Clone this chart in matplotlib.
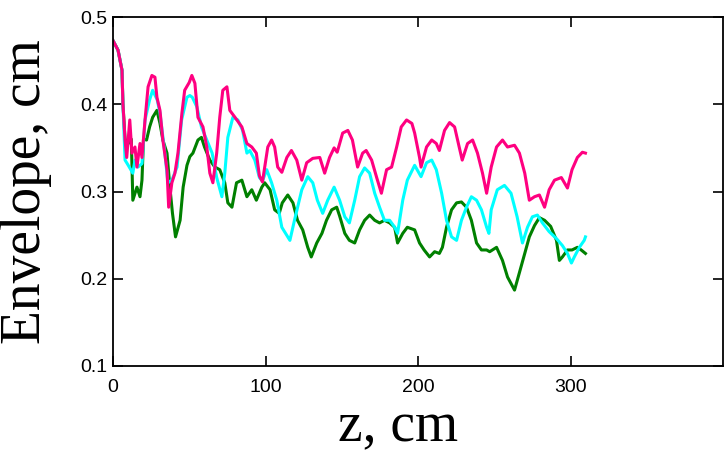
import matplotlib
matplotlib.use("Agg")
import matplotlib.pyplot as plt

# envelope vs z
z_pink = [0, 3.3, 5.9, 6.5, 7.9, 9, 11, 12.4, 14.4, 15.7, 17.7, 19, 21, 23, 25.5, 27.5, 28.8, 30.8,
          32.7, 35.4, 36.5, 38.6, 40.6, 42.6, 45.2, 47, 50, 51.7, 53.7, 55.7, 59, 61.5, 63.5, 65.5,
          68, 70, 72, 74.7, 76.6, 80, 84.5, 87.8, 91, 94, 96, 98, 101.5, 104, 106, 108, 110.7, 114,
          117, 120.5, 123.8, 127, 131, 135.6, 138.8, 142, 145, 147, 150.6, 154, 157, 160.4, 163.7,
          166, 169.6, 172.9, 176, 179.4, 182.7, 186, 189, 192.5, 196, 197.8, 201, 202, 205.6, 209,
          212, 214, 217.4, 220.7, 224, 227, 229, 232.5, 235.8, 239, 242.3, 245, 248, 251.5, 255.4,
          258.7, 263.3, 266.5, 270, 273, 276.4, 279.6, 283, 286, 289.5, 294, 298, 301, 304.5, 307.8,
          309.8]
env_pink = [0.473, 0.462, 0.439, 0.401, 0.359, 0.339, 0.382, 0.344, 0.351, 0.328, 0.355, 0.339,
            0.382, 0.420, 0.433, 0.431, 0.408, 0.393, 0.359, 0.325, 0.282, 0.310, 0.321, 0.344,
            0.390, 0.416, 0.425, 0.433, 0.424, 0.385, 0.374, 0.351, 0.321, 0.310, 0.344, 0.385,
            0.416, 0.420, 0.393, 0.385, 0.374, 0.355, 0.351, 0.344, 0.318, 0.311, 0.351, 0.359,
            0.351, 0.328, 0.322, 0.339, 0.347, 0.336, 0.313, 0.333, 0.338, 0.339, 0.321, 0.339,
            0.350, 0.345, 0.367, 0.370, 0.359, 0.328, 0.344, 0.347, 0.336, 0.316, 0.298, 0.325,
            0.328, 0.351, 0.374, 0.382, 0.378, 0.367, 0.339, 0.328, 0.351, 0.359, 0.355, 0.347,
            0.370, 0.379, 0.374, 0.351, 0.336, 0.355, 0.359, 0.344, 0.321, 0.298, 0.328, 0.351,
            0.359, 0.351, 0.353, 0.344, 0.321, 0.290, 0.294, 0.296, 0.282, 0.302, 0.313, 0.316,
            0.304, 0.325, 0.339, 0.345, 0.344]

z_cyan = [0, 3.3, 5.9, 6.5, 7.9, 10, 13, 14.4, 16.4, 19, 21, 24, 26, 29, 30.8, 34, 36, 38.6, 42,
          45, 48.5, 50.4, 52, 55, 58, 61.5, 65, 68, 71.4, 73.3, 75.3, 78.6, 81.9, 85, 87.8, 89.7,
          93, 96, 98, 100.8, 104, 107.4, 110.7, 116, 119, 123.8, 127.7, 131, 134, 137.5, 140.8,
          145, 148.6, 152, 155, 158.5, 161.7, 165, 168.3, 171.6, 174.8, 178, 181.4, 184.7, 186.6,
          190, 193, 197.8, 202, 205.6, 209, 212, 215.5, 218.7, 222, 225.3, 228.5, 231.8, 235,
          238.4, 241.6, 245, 246.5, 248, 252, 256.7, 261, 265, 268.5, 271.8, 275, 278.3, 281.6,
          286, 290.8, 294.7, 298, 300.6, 302.5, 305.8, 309, 309.8]
env_cyan = [0.473, 0.462, 0.439, 0.401, 0.336, 0.330, 0.321, 0.336, 0.328, 0.332, 0.382, 0.405,
            0.416, 0.405, 0.390, 0.344, 0.310, 0.313, 0.328, 0.382, 0.408, 0.410, 0.408, 0.397,
            0.374, 0.359, 0.344, 0.316, 0.294, 0.321, 0.362, 0.385, 0.382, 0.370, 0.344, 0.347,
            0.336, 0.316, 0.312, 0.325, 0.310, 0.290, 0.259, 0.244, 0.267, 0.302, 0.317, 0.310,
            0.290, 0.275, 0.290, 0.305, 0.290, 0.271, 0.264, 0.290, 0.317, 0.327, 0.321, 0.298,
            0.282, 0.267, 0.267, 0.259, 0.252, 0.290, 0.313, 0.330, 0.317, 0.333, 0.336, 0.325,
            0.298, 0.267, 0.248, 0.244, 0.267, 0.282, 0.294, 0.290, 0.279, 0.259, 0.252, 0.279,
            0.302, 0.307, 0.298, 0.271, 0.241, 0.259, 0.271, 0.273, 0.264, 0.254, 0.246, 0.238,
            0.229, 0.218, 0.225, 0.236, 0.244, 0.248]

z_green = [0, 3.3, 5.9, 6.5, 7.9, 10, 12, 13, 15.7, 17.7, 19, 20, 22, 24, 26, 28.8, 30.8, 32.7,
           35.4, 37.3, 39, 41, 44, 46, 48.5, 50.4, 52.4, 55.7, 58, 60, 63.5, 66.8, 70, 73.3, 75.3,
           78, 81, 84.5, 87.8, 91, 94, 97.6, 99.5, 103, 106, 109, 111, 114.6, 118, 121, 124.4,
           127.7, 130, 133.6, 137, 140, 143.4, 146.7, 148.6, 152, 155, 158.5, 161.7, 165, 168.3,
           171.6, 174.8, 178, 181.4, 184.7, 186.6, 190, 193, 197.8, 201, 204, 207.6, 210.9, 214,
           216, 218.7, 222, 225.3, 228.5, 231.8, 235, 238.4, 241.6, 245, 247, 251.5, 255.4, 258.7,
           263.3, 266.5, 270, 273, 276.4, 279.6, 283, 287, 290.8, 292.7, 294.7, 298, 301, 304.5,
           307, 309.8]
env_green = [0.473, 0.462, 0.439, 0.401, 0.360, 0.355, 0.360, 0.290, 0.305, 0.294, 0.313, 0.360,
             0.359, 0.374, 0.385, 0.393, 0.378, 0.359, 0.344, 0.305, 0.275, 0.248, 0.267, 0.305,
             0.330, 0.340, 0.344, 0.359, 0.362, 0.351, 0.336, 0.328, 0.325, 0.310, 0.287, 0.282,
             0.310, 0.313, 0.294, 0.302, 0.290, 0.305, 0.310, 0.302, 0.279, 0.275, 0.287, 0.296,
             0.287, 0.267, 0.256, 0.236, 0.225, 0.241, 0.252, 0.267, 0.279, 0.282, 0.272, 0.252,
             0.244, 0.241, 0.256, 0.267, 0.273, 0.267, 0.264, 0.267, 0.264, 0.259, 0.241, 0.252,
             0.259, 0.256, 0.241, 0.233, 0.225, 0.231, 0.229, 0.236, 0.259, 0.279, 0.287, 0.288,
             0.282, 0.267, 0.241, 0.233, 0.233, 0.231, 0.236, 0.221, 0.202, 0.187, 0.207, 0.229,
             0.248, 0.261, 0.270, 0.267, 0.260, 0.244, 0.221, 0.225, 0.233, 0.233, 0.236, 0.233,
             0.229]

x_ticks = [0, 100, 200, 300]
y_ticks = [0.1, 0.2, 0.3, 0.4, 0.5]

tick_font = "Liberation Sans"
label_font = "Liberation Serif"

fig = plt.figure(figsize=(7.24, 4.54), dpi=100)
ax = fig.add_axes([113 / 724, 1 - 366 / 454, 610 / 724, 349 / 454])

ax.plot(z_green, env_green, color="#008000", lw=2.2)
ax.plot(z_cyan, env_cyan, color="#00FFFF", lw=2.2)
ax.plot(z_pink, env_pink, color="#FF0080", lw=2.2)

ax.set_xlim(0, 400)
ax.set_ylim(0.1, 0.5)
ax.set_xticks(x_ticks)
ax.set_xticklabels([str(t) for t in x_ticks], family=tick_font, fontsize=14)
ax.set_yticks(y_ticks)
ax.set_yticklabels([f"{t:.1f}" for t in y_ticks], family=tick_font, fontsize=14)
ax.tick_params(direction="in", length=7, width=1.2, top=True, right=True, colors="black")
ax.tick_params(axis="x", pad=9)
ax.tick_params(axis="y", pad=4)

for s in ax.spines.values():
    s.set_linewidth(1.3)

ax.set_xlabel("z, cm", family=label_font, fontsize=40)
ax.xaxis.set_label_coords((398 - 113) / 610, -0.1)
ax.set_ylabel("Envelope, cm", family=label_font, fontsize=40)
ax.yaxis.set_label_coords(-0.1, 0.5)

fig.savefig("out.png", dpi=100)
